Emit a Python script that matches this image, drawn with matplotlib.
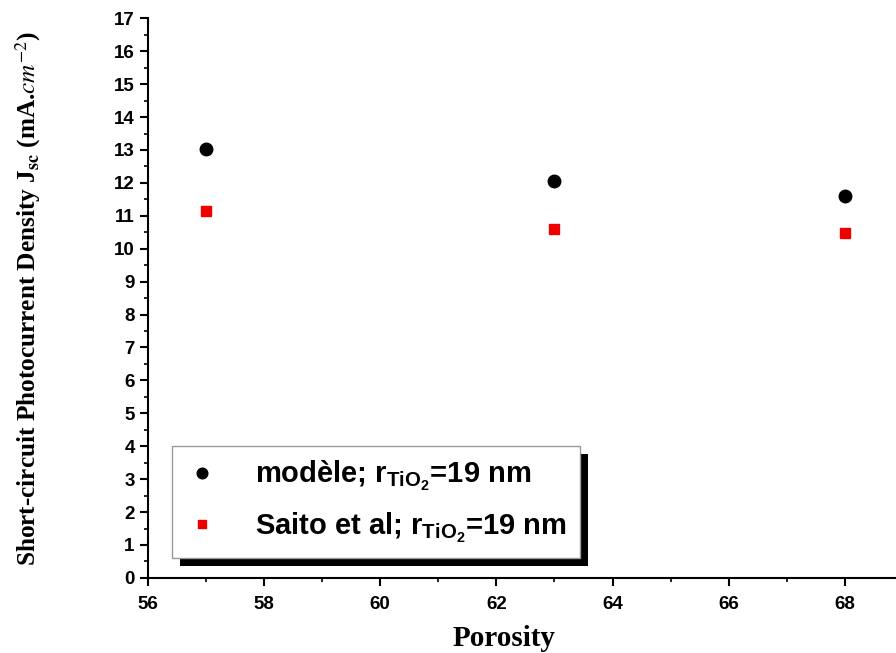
import matplotlib
matplotlib.use('Agg')
import matplotlib.pyplot as plt
from matplotlib.patches import Rectangle
from matplotlib.transforms import IdentityTransform
from matplotlib.ticker import MultipleLocator

porosity = [57, 63, 68]
modele = [13.02, 12.05, 11.60]
saito = [11.15, 10.60, 10.47]

x_ticks = [56, 58, 60, 62, 64, 66, 68]
y_ticks = list(range(0, 18))

plt.rcParams['font.family'] = ['Liberation Sans', 'DejaVu Sans']
plt.rcParams['mathtext.fontset'] = 'custom'
plt.rcParams['mathtext.rm'] = 'Liberation Sans:bold'
plt.rcParams['mathtext.it'] = 'Liberation Sans:bold'
plt.rcParams['mathtext.bf'] = 'Liberation Sans:bold'

fig = plt.figure(figsize=(8.96, 6.53), dpi=100)
ax = fig.add_axes([0.165, 0.115, 0.835, 0.857])

ax.plot(porosity, modele, 'o', color='black', markersize=9, linestyle='none',
        label=r'modèle; r$_{\mathregular{TiO_2}}$=19 nm')
ax.plot(porosity, saito, 's', color='#ee0000', markersize=7, linestyle='none',
        label=r'Saito et al; r$_{\mathregular{TiO_2}}$=19 nm')

ax.set_xlim(56, 68.88)
ax.set_ylim(0, 17)
ax.set_xticks(x_ticks)
ax.set_yticks(y_ticks)
ax.xaxis.set_minor_locator(MultipleLocator(1))
ax.yaxis.set_minor_locator(MultipleLocator(0.5))

for s in ['top', 'right']:
    ax.spines[s].set_visible(False)
for s in ['left', 'bottom']:
    ax.spines[s].set_linewidth(1.5)
ax.tick_params(which='major', direction='out', length=6, width=1.5,
               labelsize=13.5)
ax.tick_params(axis='x', which='major', pad=7)
ax.tick_params(which='minor', direction='out', length=3, width=1.2)
for lab in ax.get_xticklabels() + ax.get_yticklabels():
    lab.set_fontweight('bold')

ax.set_xlabel('Porosity', family='Liberation Serif', fontweight='bold',
              fontsize=21)
ax.xaxis.set_label_coords(0.476, -0.085)
ax.set_ylabel(r'Short-circuit Photocurrent Density J$_{\mathbf{sc}}$ (mA.$\mathit{cm}^{-2}$)',
              family='Liberation Serif', fontweight='bold', fontsize=18.2,
              math_fontfamily='stix')
ax.yaxis.set_label_coords(-0.14, 0.5)

leg = ax.legend(loc='lower left', bbox_to_anchor=(0.02, 0.02),
                prop={'weight': 'bold', 'size': 21}, fancybox=False,
                edgecolor='#999999', framealpha=1, borderpad=0.45,
                handlelength=1.2, handletextpad=1.2, labelspacing=0.6,
                markerscale=0.85, borderaxespad=0.3)
leg.get_frame().set_linewidth(1.0)
leg.set_zorder(5)

fig.canvas.draw()
bb = leg.get_window_extent()
shadow = Rectangle((bb.x0 + 8, bb.y0 - 8), bb.width, bb.height,
                   facecolor='black', edgecolor='none', zorder=4)
ax.add_patch(shadow)
shadow.set_transform(IdentityTransform())
shadow.set_clip_on(False)

fig.savefig('out.png', dpi=100)
